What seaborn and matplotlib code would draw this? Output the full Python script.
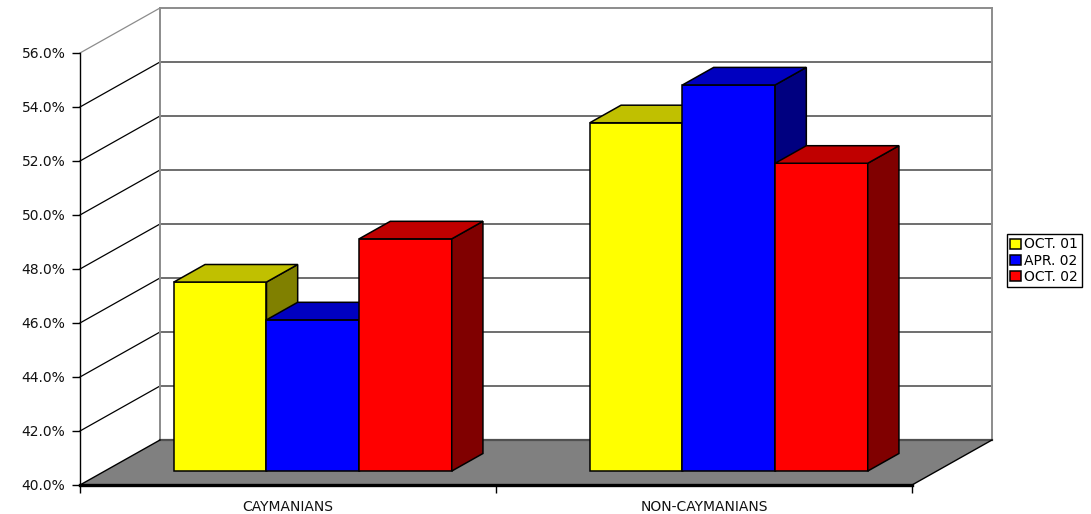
import numpy as np
import pandas as pd
import matplotlib
matplotlib.use("Agg")
import matplotlib.pyplot as plt
from matplotlib.patches import Polygon
import seaborn as sns

# values (percent)
categories = ["CAYMANIANS", "NON-CAYMANIANS"]
periods = ["OCT. 01", "APR. 02", "OCT. 02"]
oct01 = [47.0, 52.9]
apr02 = [45.6, 54.3]
oct02 = [48.6, 51.4]
yticks = [40, 42, 44, 46, 48, 50, 52, 54, 56]

front_colors = ["#ffff00", "#0000ff", "#ff0000"]
top_colors = ["#c0c000", "#0000c0", "#c00000"]
side_colors = ["#808000", "#000080", "#800000"]

df = pd.DataFrame({
    "group": categories * len(periods),
    "period": np.repeat(periods, len(categories)),
    "share": oct01 + apr02 + oct02,
})

W, H, DPI = 1091, 514, 100
plt.rcParams["font.family"] = ["DejaVu Sans"]

fig = plt.figure(figsize=(W / DPI, H / DPI), dpi=DPI)
fig.patch.set_facecolor("w")
ax = fig.add_axes([80 / W, 1 - 485 / H, 832 / W, 432 / H])

sns.barplot(data=df, x="group", y="share", hue="period", hue_order=periods,
            palette=front_colors, saturation=1, width=0.668, gap=0,
            errorbar=None, edgecolor="black", linewidth=1.1, legend=False, ax=ax)

ax.set_xlim(-0.5, 1.5)
ax.set_ylim(40, 56)

# depth of the "3d" box, in data units (80 px right, 45 px up)
DX = 2.0 * 80 / 832
DY = 16.0 * 45 / 432
F0, DEPTH = 0.31, 0.39   # bars sit from 31% to 70% of the depth

# floor and walls
floor = Polygon([(-0.5, 40), (1.5, 40), (1.5 + DX, 40 + DY), (-0.5 + DX, 40 + DY)],
                closed=True, facecolor="#808080", edgecolor="none", zorder=1, clip_on=False)
ax.add_patch(floor)
for t in yticks[1:]:
    c = "#8c8c8c" if t == yticks[-1] else "#6e6e6e"
    ax.plot([-0.5 + DX, 1.5 + DX], [t + DY, t + DY], color=c, lw=1.4, zorder=1.5, clip_on=False)
    ax.plot([-0.5, -0.5 + DX], [t, t + DY], color="#8c8c8c" if t == yticks[-1] else "black",
            lw=0.9, zorder=1.5, clip_on=False)
for xb in (-0.5 + DX, 1.5 + DX):
    ax.plot([xb, xb], [40 + DY, 56 + DY], color="#8c8c8c", lw=1.4, zorder=1.5, clip_on=False)
ax.plot([-0.5 + DX, 1.5 + DX], [40 + DY, 40 + DY], color="#505050", lw=1.6, zorder=1.6, clip_on=False)
ax.plot([-0.5, -0.5 + DX], [40, 40 + DY], color="black", lw=1.0, zorder=1.6, clip_on=False)
ax.plot([1.5, 1.5 + DX], [40, 40 + DY], color="black", lw=1.0, zorder=1.6, clip_on=False)

# push the bars back into the box and extrude them
for h, container in enumerate(ax.containers):
    for bar in container:
        x0 = bar.get_x() + F0 * DX
        w = bar.get_width()
        yb = 40 + F0 * DY
        yt = bar.get_y() + bar.get_height() + F0 * DY
        bar.set_x(x0)
        bar.set_y(yb)
        bar.set_height(yt - yb)
        bar.set_zorder(3 + h)
        bar.set_clip_on(False)
        xr = x0 + w
        ddx, ddy = DEPTH * DX, DEPTH * DY
        side = Polygon([(xr, yb), (xr, yt), (xr + ddx, yt + ddy), (xr + ddx, yb + ddy)],
                       closed=True, facecolor=side_colors[h], edgecolor="black",
                       lw=1.1, zorder=3 + h + 0.1, clip_on=False)
        top = Polygon([(x0, yt), (xr, yt), (xr + ddx, yt + ddy), (x0 + ddx, yt + ddy)],
                      closed=True, facecolor=top_colors[h], edgecolor="black",
                      lw=1.1, zorder=3 + h + 0.2, clip_on=False)
        ax.add_patch(side)
        ax.add_patch(top)

# axes styling
for s in ("top", "right"):
    ax.spines[s].set_visible(False)
ax.spines["left"].set_color("black")
ax.spines["left"].set_linewidth(1.0)
ax.spines["bottom"].set_color("black")
ax.spines["bottom"].set_linewidth(2.4)
ax.spines["bottom"].set_zorder(2)
ax.patch.set_visible(False)

ax.set_yticks(yticks)
ax.set_yticklabels([f"{t:.1f}%" for t in yticks])
ax.tick_params(axis="y", length=5.5, width=1, color="black", pad=5, labelsize=10, labelcolor="#111111")
ax.set_xticks([0, 1])
ax.set_xticklabels(categories)
ax.set_xticks([-0.5, 0.5, 1.5], minor=True)
ax.tick_params(axis="x", which="major", length=0, pad=11, labelsize=10, labelcolor="#111111")
ax.tick_params(axis="x", which="minor", length=5.5, width=1, color="black")
ax.set_xlabel("")
ax.set_ylabel("")

ax.legend(handles=ax.containers, labels=periods, loc="upper left",
          bbox_to_anchor=(1007 / W, 1 - 234 / H), bbox_transform=fig.transFigure,
          frameon=True, fancybox=False, edgecolor="black", framealpha=1,
          borderpad=0.25, borderaxespad=0, handlelength=0.75, handleheight=0.75,
          handletextpad=0.25, labelspacing=0.15, fontsize=10)

fig.savefig("out.png", dpi=DPI)
